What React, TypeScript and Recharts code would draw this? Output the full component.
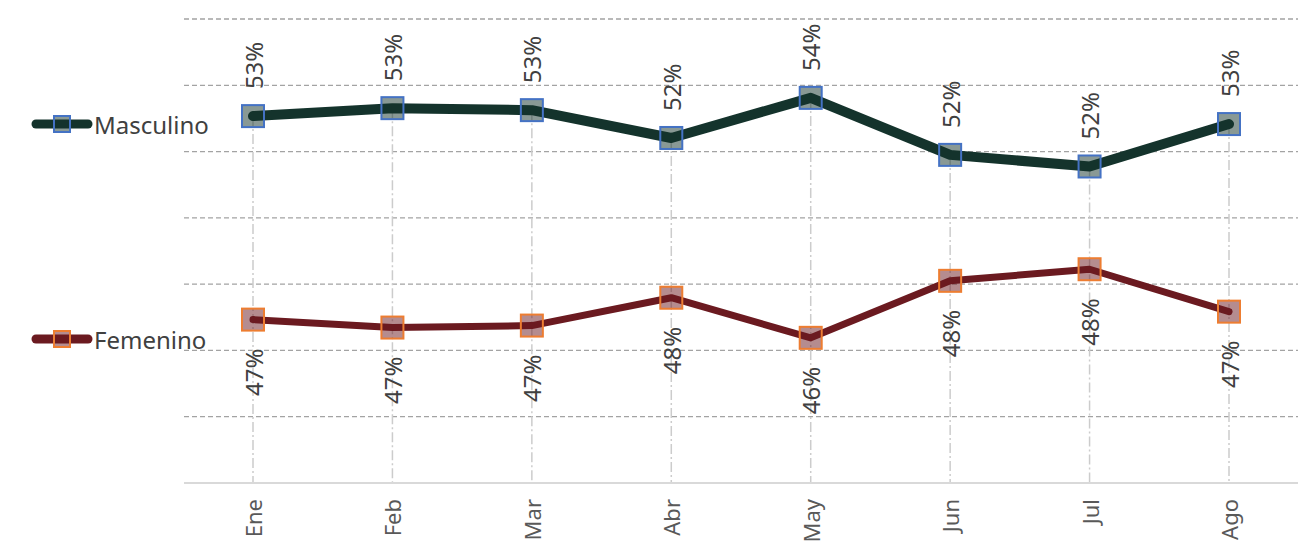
import {
  LineChart,
  Line,
  XAxis,
  YAxis,
  CartesianGrid,
  ReferenceLine,
} from "recharts";

const months = ["Ene", "Feb", "Mar", "Abr", "May", "Jun", "Jul", "Ago"];
const masculino = [53.07, 53.31, 53.25, 52.41, 53.62, 51.9, 51.55, 52.83];
const femenino = [46.93, 46.69, 46.75, 47.59, 46.38, 48.1, 48.45, 47.17];
const yTicks = [42, 44, 46, 48, 50, 52, 54, 56];

const data = months.map((m, i) => ({
  name: m,
  masculino: masculino[i],
  femenino: femenino[i],
}));

const FONT = "'Noto Sans', sans-serif";
const M_COLOR = "#14332c";
const F_COLOR = "#6b1a20";

const MonthTick = (props: any) => {
  const { x, y, payload } = props;
  return (
    <text
      transform={`translate(${x},${y + 8}) rotate(-90)`}
      textAnchor="end"
      dominantBaseline="central"
      fill="#595959"
      fontSize={22}
      fontFamily={FONT}
    >
      {payload.value}
    </text>
  );
};

const makeDot = (stroke: string, fill: string) => (props: any) => {
  const { cx, cy, index } = props;
  if (cx == null || cy == null) return <g key={index} />;
  return (
    <rect
      key={index}
      x={cx - 11}
      y={cy - 11}
      width={22}
      height={22}
      fill={fill}
      fillOpacity={0.5}
      stroke={stroke}
      strokeWidth={2}
    />
  );
};

const makeLabel = (above: boolean) => (props: any) => {
  const { x, y, value, index } = props;
  const oy = above ? y - 27 : y + 29;
  return (
    <text
      key={index}
      transform={`translate(${x},${oy}) rotate(-90)`}
      textAnchor={above ? "start" : "end"}
      dominantBaseline="central"
      fill="#404040"
      fontSize={24}
      fontFamily={FONT}
    >
      {Math.round(value)}%
    </text>
  );
};

function LegendItem({ top, color, border, label }: any) {
  return (
    <div
      style={{
        position: "absolute",
        left: 30,
        top: top - 16,
        height: 32,
        display: "flex",
        alignItems: "center",
        fontFamily: FONT,
        fontSize: 24,
        color: "#404040",
      }}
    >
      <svg width={64} height={32}>
        <line x1={6} y1={16} x2={58} y2={16} stroke={color} strokeWidth={9} strokeLinecap="round" />
        <rect x={24} y={8} width={16} height={16} fill={color} fillOpacity={0.5} stroke={border} strokeWidth={2} />
      </svg>
      <span>{label}</span>
    </div>
  );
}

export default function App() {
  return (
    <div style={{ position: "absolute", left: 0, top: 0, width: 1307, height: 545, background: "#fff" }}>
      <LineChart
        width={1307}
        height={545}
        data={data}
        margin={{ top: 19, right: 9, bottom: 0, left: 184 }}
      >
        <CartesianGrid
          vertical={false}
          stroke="#a3a3a3"
          strokeWidth={1.3}
          strokeDasharray="5 3"
        />
        <YAxis hide domain={[42, 56]} ticks={yTicks} />
        <XAxis
          dataKey="name"
          height={62}
          padding={{ left: 69, right: 69 }}
          axisLine={{ stroke: "#d9d9d9", strokeWidth: 2 }}
          tickLine={false}
          tick={<MonthTick />}
          interval={0}
        />
        {months.map((m, i) => (
          <ReferenceLine
            key={m}
            segment={[
              { x: m, y: masculino[i] },
              { x: m, y: 42 },
            ]}
            stroke="#cccccc"
            strokeWidth={1.5}
            strokeDasharray="10 3 2 3"
          />
        ))}
        <Line
          dataKey="masculino"
          stroke={M_COLOR}
          strokeWidth={10}
          strokeLinecap="round"
          strokeLinejoin="round"
          dot={makeDot("#4472c4", M_COLOR)}
          label={makeLabel(true)}
          isAnimationActive={false}
        />
        <Line
          dataKey="femenino"
          stroke={F_COLOR}
          strokeWidth={7}
          strokeLinecap="round"
          strokeLinejoin="round"
          dot={makeDot("#ed7d31", F_COLOR)}
          label={makeLabel(false)}
          isAnimationActive={false}
        />
      </LineChart>
      <LegendItem top={124} color={M_COLOR} border="#4472c4" label="Masculino" />
      <LegendItem top={339} color={F_COLOR} border="#ed7d31" label="Femenino" />
    </div>
  );
}
